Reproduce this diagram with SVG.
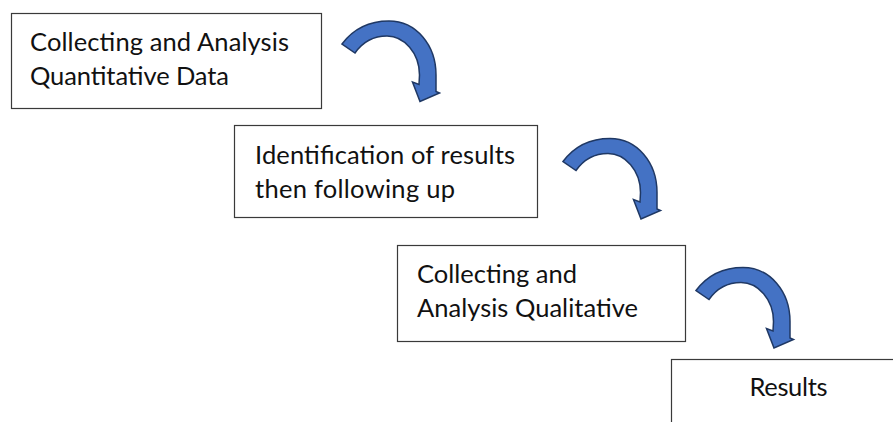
<svg xmlns="http://www.w3.org/2000/svg" xmlns:xlink="http://www.w3.org/1999/xlink" width="893" height="422" viewBox="0 0 893 422">
  <style>
    .box { fill: #ffffff; stroke: #3a3a3a; stroke-width: 1.2; }
    .label { font-family: "Lato", "Liberation Sans", sans-serif; font-size: 25.5px; fill: #111111; }
    .curl { fill: #4472C4; stroke: #1F3864; stroke-width: 1.5; stroke-linejoin: miter; }
  </style>
  <defs>
    <!-- curved down arrow, drawn at the first step's position -->
    <path id="curl-arrow" class="curl"
          d="M342,44 C354,28 371,21 389,21 C416,21 436,45 436,75 L436,91.5 L439.5,93 L420,101.5 L412.5,82 L419,84.5 L419.5,75 C419.5,53 404,36 387,36 C373,36 362,43 355,53 Z"/>
  </defs>

  <rect width="893" height="422" fill="#ffffff"/>

  <g id="connectors">
    <use xlink:href="#curl-arrow" href="#curl-arrow"/>
    <use xlink:href="#curl-arrow" href="#curl-arrow" transform="translate(221,117.5)"/>
    <use xlink:href="#curl-arrow" href="#curl-arrow" transform="translate(354,246.5)"/>
  </g>

  <g id="quantitative">
    <rect class="box" x="11.5" y="13.5" width="310" height="95"/>
    <text class="label" x="30" y="51" textLength="259">Collecting and Analysis</text>
    <text class="label" x="30" y="84.5" textLength="199">Quantitative Data</text>
  </g>

  <g id="identification">
    <rect class="box" x="234.5" y="125.5" width="303" height="92"/>
    <text class="label" x="255" y="163.5" textLength="260">Identification of results</text>
    <text class="label" x="255" y="197.5" textLength="200">then following up</text>
  </g>

  <g id="qualitative">
    <rect class="box" x="397.5" y="245.5" width="288" height="96"/>
    <text class="label" x="417" y="282.5" textLength="160">Collecting and</text>
    <text class="label" x="417" y="316.5" textLength="221">Analysis Qualitative</text>
  </g>

  <g id="results">
    <rect class="box" x="671.5" y="359.5" width="240" height="90"/>
    <text class="label" x="749.5" y="396" textLength="78">Results</text>
  </g>
</svg>
